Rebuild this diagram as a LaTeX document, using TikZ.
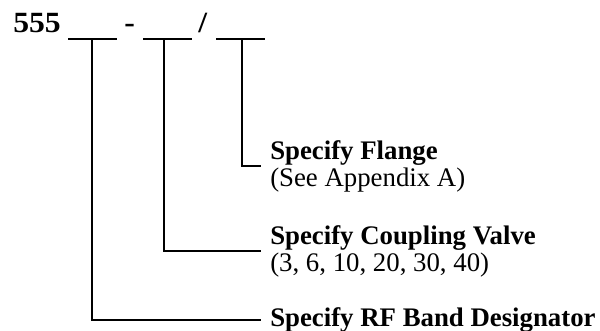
\documentclass[tikz,border=0pt]{standalone}
\usepackage{fontspec}
\setmainfont{Liberation Serif}
\usetikzlibrary{positioning}
\tikzset{
  code/.style={anchor=base west, inner sep=0pt, xscale=1.08, font=\fontsize{22}{24}\selectfont\bfseries},
  spec/.style={anchor=west, align=left, inner xsep=6.75pt, inner ysep=0pt, font=\fontsize{20.1}{20.3}\selectfont},
  blank/.style={line width=1.8pt},
  lead/.style={line width=1.8pt}
}
\begin{document}
\begin{tikzpicture}[x=0.75pt,y=-0.75pt]
\useasboundingbox (0,0) rectangle (600,331);
\node[code] (num) at (13,33) {555};
\node[code] (dash) at (124,33) {-};
\node[code] (slash) at (198,33) {/};
\draw[blank] (68,39) -- (117,39);
\draw[blank] (143,39) -- (192,39);
\draw[blank] (216,39) -- (265,39);
\coordinate (band) at (92,39);
\coordinate (coup) at (164,39);
\coordinate (flng) at (242,39);
\node[spec] (flange) at (261,166) {\textbf{Specify Flange}\\(See Appendix A)};
\node[spec] (valve) at (261,251) {\textbf{Specify Coupling Valve}\\(3, 6, 10, 20, 30, 40)};
\node[spec] (rf) at (261,320) {\textbf{Specify RF Band Designator}};
\draw[lead] (flng) |- (flange.west);
\draw[lead] (coup) |- (valve.west);
\draw[lead] (band) |- (rf.west);
\end{tikzpicture}
\end{document}
